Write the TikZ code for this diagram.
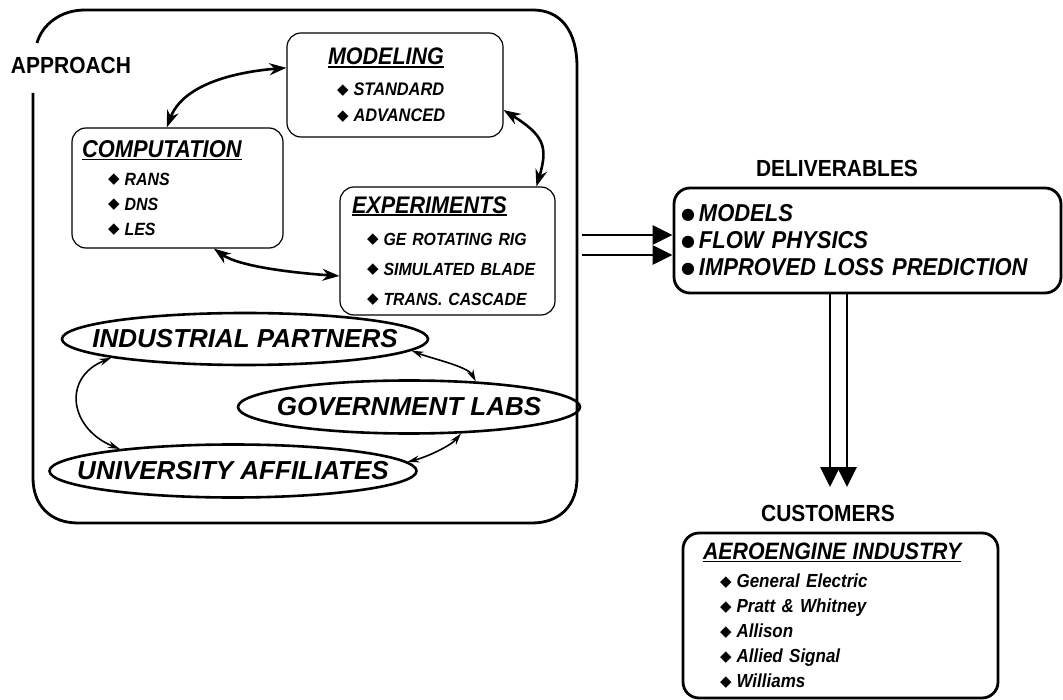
\documentclass[tikz,border=0pt]{standalone}
\usepackage{fontspec}
\setmainfont{Liberation Sans}[FakeStretch=0.9]
\newfontfamily\widefont{Liberation Sans}
\newfontfamily\symfont{DejaVu Sans}
\usetikzlibrary{arrows.meta,positioning,shapes.geometric}

\newcommand{\titleul}[1]{\setbox0=\hbox{#1}\rlap{\rule[-3pt]{\wd0}{1.6pt}}\box0}
\newcommand{\dia}{\raisebox{1.2pt}{\symfont\fontsize{15}{15}\selectfont\upshape\mdseries ◆}\hspace{5pt}}
\newcommand{\roundbul}{\raisebox{2.5pt}{\symfont\fontsize{16}{16}\selectfont\upshape\mdseries ●}\hspace{4pt}}

\begin{document}
\begin{tikzpicture}[
    x=1pt, y=-1pt,
    heading/.style={font=\fontsize{23.3}{27}\selectfont\bfseries, inner sep=0pt},
    stage/.style={draw, rounded corners=14pt, line width=1.2pt, align=left, inner ysep=0pt},
    result/.style={draw, rounded corners=16pt, line width=2.8pt, align=left, inner ysep=0pt},
    partner/.style={draw, ellipse, line width=2.6pt, inner sep=0pt, font=\widefont\fontsize{26}{30}\selectfont\bfseries\itshape},
    ringarrow/.style={{Stealth[length=17pt,width=12pt]}-{Stealth[length=17pt,width=12pt]}, line width=2.6pt},
    tiearrow/.style={{Stealth[length=12pt,width=7pt]}-{Stealth[length=12pt,width=7pt]}, line width=1.6pt},
    outarrow/.style={-{Triangle[length=20pt,width=19pt]}, line width=2.8pt}
]
\useasboundingbox (0,0) rectangle (1063,700);
\draw[line width=2.8pt] (33,93) -- (33,478) .. controls (33,505) and (50,523) .. (78,523) -- (532,523) .. controls (560,523) and (577,505) .. (577,478) -- (577,67) .. controls (577,30) and (560,10) .. (533,10) -- (85,10) .. controls (60,10) and (42,25) .. (37,43);
\node[heading] (approach) at (71,65) {APPROACH};
\node[stage, text width=134pt, inner xsep=41pt, minimum height=104pt, font=\fontsize{18.2}{26}\selectfont\bfseries\itshape] (modeling) at (395,85) {\titleul{\fontsize{23.9}{26}\selectfont MODELING}\\[5pt]\hspace*{9pt}\dia STANDARD\\\hspace*{9pt}\dia ADVANCED};
\node[stage, text width=191pt, inner xsep=10pt, minimum height=120pt, font=\fontsize{17.7}{25}\selectfont\bfseries\itshape] (computation) at (177.5,188) {\titleul{\fontsize{24.3}{25}\selectfont COMPUTATION}\\[3pt]\hspace*{26pt}\dia RANS\\\hspace*{26pt}\dia DNS\\\hspace*{26pt}\dia LES};
\node[stage, text width=191pt, inner xsep=12pt, minimum height=128pt, font=\fontsize{17.6}{30}\selectfont\bfseries\itshape] (experiments) at (447.5,251) {\titleul{\fontsize{24}{30}\selectfont EXPERIMENTS}\\[2pt]\hspace*{15pt}\dia GE ROTATING RIG\\\hspace*{15pt}\dia SIMULATED BLADE\\\hspace*{15pt}\dia TRANS. CASCADE};
\node[partner, minimum width=366pt, minimum height=52pt] (industry) at (245,339) {\makebox[0pt]{INDUSTRIAL PARTNERS}};
\node[partner, minimum width=342pt, minimum height=53pt] (government) at (409,407) {\makebox[0pt]{GOVERNMENT LABS}};
\node[partner, minimum width=367pt, minimum height=53pt] (university) at (233,471) {\makebox[0pt]{UNIVERSITY AFFILIATES}};
\node[heading] (deliverhead) at (837,168) {DELIVERABLES};
\node[result, text width=373pt, inner xsep=7pt, minimum height=105pt, font=\fontsize{24.4}{27}\selectfont\bfseries\itshape] (deliverables) at (867.5,240.5) {\roundbul MODELS\\\roundbul FLOW PHYSICS\\\roundbul IMPROVED LOSS PREDICTION};
\node[heading] (customhead) at (828,513) {CUSTOMERS};
\node[result, text width=275pt, inner xsep=20pt, minimum height=165pt, font=\fontsize{18.9}{25}\selectfont\bfseries\itshape] (customers) at (840.5,615.5) {\titleul{\fontsize{23.7}{25}\selectfont AEROENGINE INDUSTRY}\\[3pt]\hspace*{17pt}\dia General Electric\\\hspace*{17pt}\dia Pratt \& Whitney\\\hspace*{17pt}\dia Allison\\\hspace*{17pt}\dia Allied Signal\\\hspace*{17pt}\dia Williams};
\draw[ringarrow] (computation.100) .. controls +(15,-40) and +(-60,5) .. (modeling.171);
\draw[ringarrow] (modeling.-13) .. controls +(40,25) and +(12,-40) .. (experiments.36);
\draw[ringarrow] (computation.-59) .. controls +(25,18) and +(-45,-3) .. (experiments.193);
\draw[tiearrow] (industry.188) .. controls +(-50,20) and +(-50,-20) .. (university.169);
\draw[tiearrow] (industry.-4) .. controls +(20,8) and +(-8,-15) .. (government.21);
\draw[tiearrow] (government.-27) .. controls +(-10,12) and +(20,-5) .. (university.3);
\coordinate (feedA) at (582,235);
\coordinate (feedB) at (582,255);
\draw[outarrow] (feedA) -- (feedA -| deliverables.west);
\draw[outarrow] (feedB) -- (feedB -| deliverables.west);
\coordinate (dropA) at (830,487);
\coordinate (dropB) at (847,487);
\draw[outarrow] (deliverables.south -| dropA) -- (dropA);
\draw[outarrow] (deliverables.south -| dropB) -- (dropB);
\end{tikzpicture}
\end{document}
